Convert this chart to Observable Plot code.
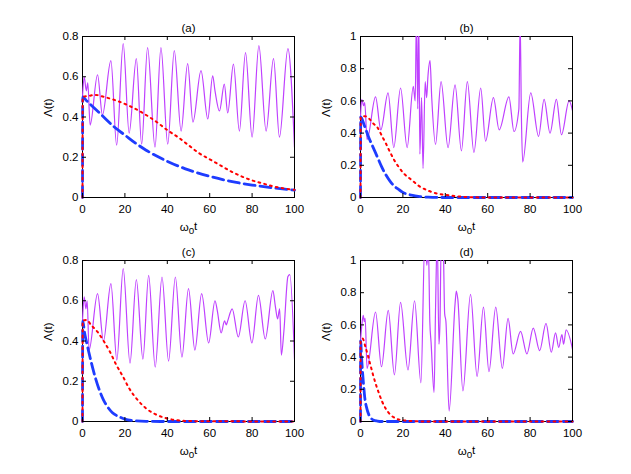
<!DOCTYPE html>
<html><head><meta charset="utf-8">
<script src="https://cdn.jsdelivr.net/npm/d3@7"></script>
<script src="https://cdn.jsdelivr.net/npm/@observablehq/plot@0.6"></script>
<style>
body{margin:0;background:#fff;}
#wrap{position:relative;width:631px;height:474px;overflow:hidden;background:#fff;}
#wrap svg{position:absolute;}
</style></head><body><div id="wrap"></div>
<script>
// ---------- tick values ----------
const xTicks = [0, 20, 40, 60, 80, 100];
const yTicks08 = [0, 0.2, 0.4, 0.6, 0.8];
const yTicks1 = [0, 0.2, 0.4, 0.6, 0.8, 1];
const titles = ["(a)", "(b)", "(c)", "(d)"];
const xLabelParts = ["ω", "0", "t"];
const yLabel = "Λ(t)";

// ---------- panel (a) ----------
const aPurpleT = [0,0.8,1.8,2.5,3.6,7.1,9.4,13.4,16.1,19.2,22.0,25.4,27.9,30.7,34.2,37.0,40.2,43.3,46.5,49.6,52.1,55.9,59.1,61.4,62.5,64.6,66.9,68.5,71.2,74.0,76.9,80.0,83.2,86.6,90.1,92.9,96.9,100];
const aPurpleV = [0.50,0.60,0.53,0.57,0.36,0.61,0.41,0.68,0.26,0.765,0.32,0.69,0.265,0.745,0.25,0.745,0.265,0.73,0.33,0.665,0.375,0.63,0.39,0.605,0.53,0.43,0.563,0.42,0.663,0.33,0.72,0.30,0.755,0.33,0.69,0.30,0.74,0.25];
const aBlueT = [0,0.1,2,5,10,15,20,25,30,40,50,60,70,80,90,100];
const aBlueV = [0,0.5,0.48,0.45,0.40,0.35,0.31,0.27,0.235,0.18,0.137,0.105,0.08,0.062,0.048,0.037];
const aRedT = [0,0.1,3,6,10,15,20,25,30,35,40,45,50,55,60,65,70,75,80,85,90,95,100];
const aRedV = [0,0.5,0.505,0.51,0.50,0.485,0.465,0.44,0.41,0.375,0.335,0.30,0.26,0.22,0.19,0.16,0.13,0.105,0.085,0.07,0.055,0.045,0.038];

// ---------- panel (b) ----------
const bPurpleT = [0,0.6,1.5,2.0,3.1,7.1,9.6,13.0,15.7,18.9,22.0,24.9,25.8,26.4,27.0,27.5,28.0,28.8,29.5,30.5,31.2,31.8,32.8,33.6,35.4,38.0,41.3,44.6,47.6,50.4,53.5,56.7,59.0,62.7,65.4,70.0,72.4,74.7,75.3,75.9,76.5,80.3,84.0,86.6,89.4,92.4,94.8,98.4,100];
const bPurpleV = [0.50,0.61,0.57,0.59,0.36,0.625,0.42,0.65,0.31,0.68,0.31,0.69,0.60,1.15,0.55,1.1,0.27,0.62,0.18,0.72,0.62,0.75,0.85,0.62,0.33,0.72,0.31,0.70,0.29,0.72,0.28,0.68,0.35,0.62,0.42,0.625,0.41,0.55,1.1,0.5,0.22,0.65,0.38,0.61,0.40,0.61,0.39,0.60,0.54];
const bBlueT = [0,0.1,2,4,6,8,10,12,14,16,18,20,24,28,32,40,100];
const bBlueV = [0,0.5,0.44,0.37,0.31,0.25,0.19,0.14,0.10,0.07,0.05,0.032,0.015,0.006,0.002,0,0];
const bRedT = [0,0.1,2,4,6,8,10,12,14,16,18,20,24,28,32,36,40,45,50,60,100];
const bRedV = [0,0.5,0.505,0.49,0.46,0.435,0.385,0.335,0.28,0.23,0.19,0.155,0.11,0.068,0.042,0.025,0.016,0.008,0.003,0,0];

// ---------- panel (c) ----------
const cPurpleT = [0,0.8,1.6,2.2,3.1,7.1,9.9,13.4,16.2,19.2,22.4,25.4,28.5,31.2,34.3,37.5,40.6,43.8,46.9,50.0,53.0,56.2,59.5,62.5,63.6,65.4,67.0,67.8,68.5,70.6,73.5,76.7,79.9,83.0,86.2,89.8,91.0,92.0,93.0,93.8,95.0,96.9,97.8,100];
const cPurpleV = [0.50,0.62,0.56,0.60,0.355,0.635,0.40,0.685,0.305,0.76,0.29,0.705,0.31,0.726,0.27,0.718,0.30,0.718,0.32,0.66,0.355,0.635,0.39,0.60,0.55,0.44,0.50,0.48,0.50,0.56,0.42,0.60,0.39,0.627,0.41,0.65,0.57,0.51,0.56,0.33,0.45,0.72,0.73,0.31];
const cBlueT = [0,0.1,1,2,4,6,8,10,12,14,16,18,20,25,30,40,100];
const cBlueV = [0,0.5,0.44,0.39,0.30,0.22,0.155,0.105,0.07,0.045,0.03,0.02,0.012,0.004,0.001,0,0];
const cRedT = [0,0.1,2,4,7,10,13,16,19,22,26,30,35,40,45,50,100];
const cRedV = [0,0.5,0.505,0.48,0.446,0.40,0.345,0.28,0.225,0.165,0.107,0.065,0.033,0.015,0.006,0.002,0];

// ---------- panel (d) ----------
const dPurpleT = [0,0.8,1.3,1.8,2.2,3.1,7.1,9.9,13.1,16.0,18.9,22.4,25.5,28.5,30.4,31.3,32.0,32.7,33.3,34.7,35.4,36.2,37.0,37.5,38.1,39.0,39.7,40.3,41.8,44.6,45.2,45.9,48.3,51.9,55.0,58.0,60.6,63.8,66.9,69.6,72.0,75.5,78.5,81.5,84.5,87.5,90.0,92.0,93.5,95.0,95.8,97.0,100];
const dPurpleV = [0.50,0.62,0.66,0.62,0.64,0.33,0.68,0.34,0.69,0.29,0.74,0.32,0.75,0.24,1.15,0.97,1.1,0.62,0.49,0.18,0.70,1.15,0.48,0.62,1.15,1.1,0.67,0.62,0.065,0.73,0.81,0.76,0.19,0.79,0.28,0.71,0.31,0.71,0.33,0.64,0.42,0.56,0.42,0.58,0.44,0.61,0.43,0.55,0.46,0.54,0.48,0.57,0.45];
const dBlueT = [0,0.05,0.5,1,1.5,2,3,4,5,6,8,10,100];
const dBlueV = [0,0.5,0.40,0.30,0.22,0.15,0.08,0.04,0.02,0.01,0.003,0,0];
const dRedT = [0,0.05,1,2.4,3.9,5.5,7.1,8.7,10.2,11.8,14.2,16.5,19,25,30,100];
const dRedV = [0,0.5,0.515,0.46,0.39,0.31,0.237,0.175,0.124,0.082,0.041,0.02,0.01,0.002,0,0];

// ---------- drawing ----------
const rows = (t, v) => t.map((x, i) => ({t: x, v: v[i]}));
const fmt = d => String(d);
const FW = 212, FH = 161, W = 315, H = 237;
const XLABEL_KEY = xLabelParts.join("");

function panel(cfg) {
  const mt = 36;
  const svg = Plot.plot({
    width: W, height: H,
    marginLeft: cfg.ml, marginRight: W - cfg.ml - FW,
    marginTop: mt, marginBottom: H - mt - FH,
    style: {fontFamily: "'Liberation Sans', Arial, sans-serif", fontSize: "11.5px", background: "transparent", color: "black", overflow: "visible"},
    x: {domain: [0, 100]},
    y: {domain: [0, cfg.ymax]},
    marks: [
      Plot.frame({stroke: "black", strokeWidth: 1}),
      Plot.line(rows(cfg.pt, cfg.pv), {x: "t", y: "v", stroke: "#bf40ff", strokeWidth: 1.2, curve: "monotone-x", clip: true}),
      Plot.line(rows(cfg.bt, cfg.bv), {x: "t", y: "v", stroke: "#1e3cff", strokeWidth: 2.8, strokeDasharray: "11,5", curve: "monotone-x"}),
      Plot.line(rows(cfg.rt, cfg.rv), {x: "t", y: "v", stroke: "#ff0000", strokeWidth: 2, strokeDasharray: "1.8,4.2", curve: "monotone-x"}),
      Plot.tickX(xTicks, {x: d => d, insetTop: FH - 4, stroke: "black"}),
      Plot.tickX(xTicks, {x: d => d, insetBottom: FH - 4, stroke: "black"}),
      Plot.tickY(cfg.yTicks, {y: d => d, insetRight: FW - 4, stroke: "black"}),
      Plot.tickY(cfg.yTicks, {y: d => d, insetLeft: FW - 4, stroke: "black"}),
      Plot.axisX(xTicks, {tickSize: 0, tickPadding: 7, tickFormat: fmt, label: null}),
      Plot.axisY(cfg.yTicks, {tickSize: 0, tickPadding: 4, tickFormat: fmt, label: null}),
      Plot.text([cfg.title], {text: d => d, frameAnchor: "top", dy: -13}),
      Plot.text([XLABEL_KEY], {text: d => d, frameAnchor: "bottom", dy: 33}),
      Plot.text([yLabel], {text: d => d, frameAnchor: "left", dx: -34, rotate: -90})
    ]
  });
  // render the x label with a real subscript 0
  d3.select(svg).selectAll("text").filter(function() { return this.textContent === XLABEL_KEY; })
    .each(function() {
      const t = d3.select(this);
      t.text(null);
      t.append("tspan").text(xLabelParts[0]);
      t.append("tspan").attr("dy", "0.35em").attr("font-size", "0.85em").text(xLabelParts[1]);
      t.append("tspan").attr("dy", "-0.35em").text(xLabelParts[2]);
    });
  svg.style.left = cfg.left + "px";
  svg.style.top = cfg.top + "px";
  document.getElementById("wrap").appendChild(svg);
}

panel({title: titles[0], left: 0, top: 0, ml: 82, ymax: 0.8, yTicks: yTicks08, pt: aPurpleT, pv: aPurpleV, bt: aBlueT, bv: aBlueV, rt: aRedT, rv: aRedV});
panel({title: titles[1], left: 300, top: 0, ml: 60, ymax: 1, yTicks: yTicks1, pt: bPurpleT, pv: bPurpleV, bt: bBlueT, bv: bBlueV, rt: bRedT, rv: bRedV});
panel({title: titles[2], left: 0, top: 224, ml: 82, ymax: 0.8, yTicks: yTicks08, pt: cPurpleT, pv: cPurpleV, bt: cBlueT, bv: cBlueV, rt: cRedT, rv: cRedV});
panel({title: titles[3], left: 300, top: 224, ml: 60, ymax: 1, yTicks: yTicks1, pt: dPurpleT, pv: dPurpleV, bt: dBlueT, bv: dBlueV, rt: dRedT, rv: dRedV});
</script>
</body></html>
